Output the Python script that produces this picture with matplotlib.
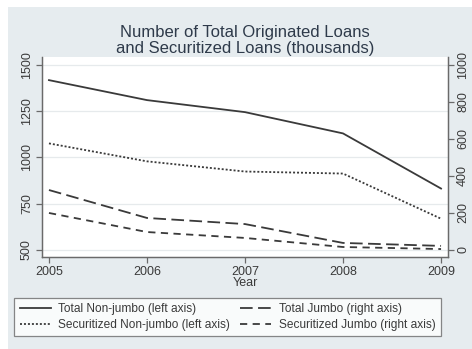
import matplotlib.pyplot as plt
import matplotlib.patches as patches

years = [2005, 2006, 2007, 2008, 2009]
total_nonjumbo = [1418, 1310, 1245, 1130, 832]
sec_nonjumbo = [1076, 979, 924, 913, 669]
total_jumbo = [324, 173, 140, 38, 22]
sec_jumbo = [200, 97, 65, 16, 5]

left_ticks = [500, 750, 1000, 1250, 1500]
right_ticks = [0, 200, 400, 600, 800, 1000]

bg = '#e6ecef'
ink = '#3a3a3a'
axcol = '#6a6a6a'

plt.rcParams['font.family'] = ['Liberation Sans', 'DejaVu Sans']

fig = plt.figure(figsize=(4.72, 3.49), dpi=100, facecolor='white')
# graph region (slightly inset from the image edge)
fig.patches.append(patches.Rectangle((8 / 472, 0), 1, 1 - 7 / 349,
                                     transform=fig.transFigure, facecolor=bg,
                                     edgecolor='none', zorder=-10))

ax = fig.add_axes([42 / 472, 1 - 257 / 349, 406 / 472, 200 / 349])
ax.set_facecolor('white')
ax2 = ax.twinx()

ax.plot(years, total_nonjumbo, color=ink, lw=1.3, ls='-', label='Total Non-jumbo (left axis)')
ax.plot(years, sec_nonjumbo, color=ink, lw=1.3, ls=(0, (1.1, 1.1)), label='Securitized Non-jumbo (left axis)')
ax2.plot(years, total_jumbo, color=ink, lw=1.3, ls=(0, (7, 3)), label='Total Jumbo (right axis)')
ax2.plot(years, sec_jumbo, color=ink, lw=1.3, ls=(0, (4, 3)), label='Securitized Jumbo (right axis)')

ax.set_xlim(2004.929, 2009.071)
ax.set_ylim(462, 1543)
ax2.set_ylim(-38, 1043)

ax.set_xticks(years)
ax.set_yticks(left_ticks)
ax2.set_yticks(right_ticks)
ax.yaxis.grid(True, color='#e6eaec', lw=0.9)
ax.set_axisbelow(True)

for a in (ax, ax2):
    a.spines['top'].set_visible(False)
    for s in ('left', 'right', 'bottom'):
        a.spines[s].set_color(axcol)
        a.spines[s].set_linewidth(0.9)
    a.tick_params(colors=axcol, labelcolor=ink, labelsize=9, length=4, width=0.9, pad=2.5)
ax.tick_params(axis='y', labelrotation=90)
ax2.tick_params(axis='y', labelrotation=90)
for lab in ax.get_yticklabels() + ax2.get_yticklabels():
    lab.set_verticalalignment('center')

ax.set_xlabel('Year', fontsize=9, color=ink, labelpad=-1)
fig.text(245 / 472, 1 - 40.5 / 349, 'Number of Total Originated Loans\nand Securitized Loans (thousands)',
         ha='center', va='center', fontsize=12, color='#2e3a4a', linespacing=1.0)

h1, l1 = ax.get_legend_handles_labels()
h2, l2 = ax2.get_legend_handles_labels()
handles = [h1[0], h1[1], h2[0], h2[1]]
labels = [l1[0], l1[1], l2[0], l2[1]]
leg = fig.legend(handles, labels, ncol=2, loc='center',
                 bbox_to_anchor=(10 / 472, 1 - 337 / 349, 435 / 472, 40 / 349),
                 fontsize=8.6, frameon=True, fancybox=False, handlelength=2.6,
                 columnspacing=0.9, labelspacing=0.35, borderpad=0.45, handletextpad=0.6)
leg.get_frame().set_edgecolor(axcol)
leg.get_frame().set_linewidth(0.9)
for t in leg.get_texts():
    t.set_color(ink)

fig.savefig('out.png', dpi=100)
